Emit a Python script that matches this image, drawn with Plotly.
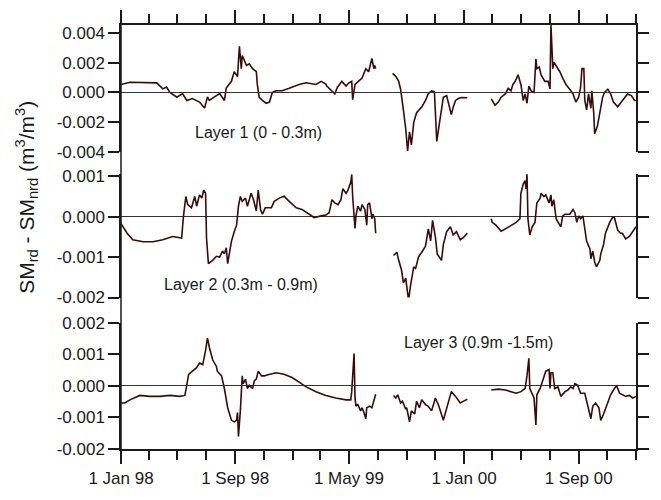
import pandas as pd
import plotly.graph_objects as go

START = "1998-01-01"
END = "2001-01-01"

# Days since 1 Jan 98; None marks a gap in the record
layer1_days = [0, 19, 76, 89, 97, 104, 119, 131, 140, 152, 167, 178, 184, 188, 199, 210, 220, 224, 235, 241,
               248, 252, 256, 258, 267, 273, 280, 288, 290, 294, 301, 309, 316, 322, 330, 343, 358, 379, 394, 415,
               426, 436, 438, 449, 455, 460, 470, 479, 485, 491, 493, 498, 506, 513, 521, 527, 534, 538, 540, 542,
               None,
               578, 585, 591, 595, 601, 606, 610, 614, 618, 623, 629, 640, 648, 654, 661, 667, 669, 672, 678, 682,
               686, 693, 699, 703, 707, 712, 718, 724, 737,
               None,
               788, 796, 803, 809, 818, 824, 830, 834, 839, 845, 851, 856, 860, 864, 868, 873, 879, 883, 885, 890,
               894, 902, 909, 913, 915, 917, 919, 921, 926, 934, 940, 947, 955, 962, 968, 974, 978, 981, 985, 987,
               991, 995, 1000, 1002, 1006, 1008, 1014, 1021, 1025, 1029, 1036, 1042, 1048, 1057, 1067, 1078, 1086,
               1093, 1096]
# SM_rd - SM_nrd, in 10^-3 m3/m3
layer1_vals = [0.54, 0.69, 0.65, 0.24, 0.37, 0.0, -0.32, -0.08, -0.54, -0.41, -0.65, -1.05, -0.30, -0.54, -0.30,
               -0.08, -0.54, 0.30, 0.75, 1.40, 1.08, 3.12, 1.61, 2.50, 1.83, 1.94, 1.61, 1.40, 0.56, -0.32,
               -0.54, -0.73, -0.65, 0.0, 0.11, 0.11, 0.28, 0.54, 0.65, 0.54, 0.75, 0.56, 0.43, 0.11, -0.10,
               0.32, 0.75, 0.43, 0.65, 0.75, -0.49, 0.54, 0.75, 0.97, 1.61, 1.40, 2.30, 1.61, 1.83, 1.61,
               None,
               1.29, 1.08, 0.75, 0.22, -1.18, -2.47, -3.95, -2.66, -3.55, -2.02, -1.37, -0.99, -0.54, -0.08, 0.11,
               0.05, -1.30, -3.31, -2.00, -1.10, -0.32, -0.21, -0.99, -1.50, -0.99, -0.54, -0.41, -0.34, -0.36,
               None,
               -0.43, -0.86, -0.65, -0.32, -0.10, 0.28, 0.11, 0.54, 0.75, 1.19, 0.54, -0.54, -0.10, -0.73, 0.43,
               0.11, 0.0, 2.26, 1.61, 1.72, 1.19, 0.75, 0.75, 0.24, 4.55, 3.34, 1.61, 2.05, 1.83, 1.40, 0.97,
               0.54, 0.22, -0.10, -0.65, -0.32, 0.32, 1.61, 1.61, -0.54, -1.18, -0.10, -1.07, 0.11, -1.37, -2.79,
               -2.26, -1.18, -0.32, 0.0, 0.22, -0.10, -0.65, -0.97, -0.54, -0.10, -0.21, -0.54, -0.54]

layer2_days = [0, 13, 25, 47, 68, 89, 110, 129, 133, 138, 142, 150, 157, 161, 167, 172, 176, 180, 182, 186,
               195, 203, 210, 216, 220, 224, 227, 235, 241, 246, 250, 254, 258, 265, 269, 277, 282, 288, 292, 297,
               301, 307, 320, 326, 337, 347, 358, 373, 385, 400, 411, 426, 436, 443, 449, 455, 462, 468, 472, 479,
               483, 489, 491, 493, 498, 500, 504, 510, 513, 519, 523, 525, 529, 534, 536, 540, 542,
               None,
               580, 587, 591, 597, 601, 606, 608, 612, 616, 623, 627, 633, 640, 648, 654, 659, 663, 669, 673, 682,
               686, 693, 701, 707, 714, 722, 729, 737,
               None,
               788, 790, 798, 809, 820, 830, 841, 849, 851, 856, 860, 862, 864, 866, 870, 875, 881, 885, 892, 894,
               900, 904, 911, 915, 917, 921, 926, 932, 936, 940, 945, 955, 962, 966, 970, 974, 978, 983, 987, 991,
               998, 1000, 1004, 1008, 1012, 1019, 1021, 1027, 1031, 1040, 1046, 1050, 1057, 1063, 1067, 1074,
               1082, 1089, 1096]
layer2_vals = [-0.17, -0.41, -0.57, -0.62, -0.62, -0.57, -0.49, -0.53, 0.02, 0.50, 0.30, 0.22, 0.50, 0.26, 0.54,
               0.46, 0.66, 0.58, -0.53, -1.16, -1.08, -0.98, -1.00, -0.85, -0.92, -0.77, -1.16, -0.61, -0.37,
               -0.21, 0.26, 0.50, 0.38, 0.46, 0.26, 0.58, 0.42, 0.14, 0.66, 0.18, 0.06, 0.22, 0.22, 0.38, 0.46,
               0.51, 0.38, 0.22, 0.18, 0.06, -0.02, 0.02, 0.04, 0.10, 0.42, 0.34, 0.30, 0.42, 0.69, 0.58, 0.66,
               0.85, 1.05, 0.50, -0.29, 0.02, 0.26, 0.14, 0.30, 0.18, -0.21, 0.30, 0.34, -0.05, 0.06, -0.05, -0.41,
               None,
               -0.96, -0.88, -1.08, -1.32, -1.64, -1.52, -1.71, -2.07, -1.71, -1.24, -1.28, -1.00, -0.88, -0.73,
               -0.30, -0.60, -0.09, -0.50, -0.92, -1.08, -0.69, -0.37, -0.25, -0.45, -0.37, -0.57, -0.51, -0.41,
               None,
               -0.05, -0.14, -0.21, -0.36, -0.29, -0.21, -0.14, -0.05, 0.58, 0.81, 0.89, 0.69, 1.07, -0.05, -0.45,
               -0.25, -0.14, 0.34, 0.46, 0.58, 0.50, 0.54, 0.34, 0.54, 0.26, 0.42, -0.05, -0.17, -0.25, 0.02,
               0.06, 0.06, 0.18, 0.10, -0.14, 0.02, -0.05, 0.02, -0.29, -0.61, -0.80, -1.04, -0.85, -1.12, -1.24,
               -1.08, -0.92, -0.69, -0.41, -0.14, -0.02, -0.02, -0.33, -0.41, -0.41, -0.55, -0.49, -0.36, -0.25]

layer3_days = [0, 8, 19, 40, 61, 83, 104, 125, 136, 140, 144, 152, 161, 167, 174, 180, 184, 188, 195, 203,
               205, 214, 220, 227, 235, 241, 246, 248, 250, 254, 258, 260, 265, 269, 273, 280, 284, 288, 292, 299,
               305, 311, 330, 347, 364, 379, 394, 415, 436, 457, 479, 489, 491, 496, 498, 500, 504, 510, 513, 517,
               521, 523, 529, 534, 538, 542,
               None,
               580, 585, 589, 595, 599, 606, 608, 614, 618, 625, 629, 635, 640, 648, 654, 661, 669, 676, 686, 693,
               703, 712, 722, 729, 737,
               None,
               788, 803, 818, 830, 841, 851, 860, 864, 868, 870, 875, 879, 883, 885, 892, 898, 904, 911, 913, 915,
               919, 923, 930, 936, 945, 951, 957, 962, 966, 972, 978, 987, 993, 1000, 1004, 1010, 1017, 1021, 1027,
               1036, 1042, 1050, 1055, 1061, 1067, 1074, 1082, 1089, 1096]
layer3_vals = [-0.54, -0.54, -0.44, -0.30, -0.33, -0.33, -0.30, -0.33, -0.30, 0.02, 0.37, 0.47, 0.58, 0.73, 0.68,
               1.13, 1.52, 1.23, 0.83, 0.62, 0.47, 0.32, -0.08, -0.69, -1.09, -1.14, -1.09, -0.84, -1.60, -0.79,
               0.32, 0.07, 0.22, -0.08, 0.02, -0.08, 0.17, 0.22, 0.47, 0.32, 0.32, 0.35, 0.42, 0.37, 0.27, 0.12,
               -0.03, -0.18, -0.30, -0.38, -0.44, -0.44, -0.18, 1.03, -0.38, -0.64, -0.59, -0.79, -0.69, -0.84,
               -1.04, -0.69, -0.64, -0.69, -0.48, -0.26,
               None,
               -0.30, -0.38, -0.28, -0.54, -0.48, -0.74, -0.69, -1.14, -0.79, -0.89, -0.48, -0.69, -0.44, -0.59,
               -0.65, -0.79, -0.38, -0.62, -1.09, -0.74, -0.18, -0.33, -0.54, -0.48, -0.42,
               None,
               -0.13, -0.10, -0.13, -0.18, -0.23, -0.18, -0.08, 0.32, 0.88, -0.08, -0.28, -0.38, -1.24, -0.28,
               -0.08, 0.17, 0.47, 0.52, -0.08, 0.42, 0.42, -0.08, -0.03, -0.33, -0.18, -0.13, -0.03, -0.08, 0.07,
               0.02, -0.23, -0.23, -0.59, -1.04, -0.64, -0.54, -0.69, -1.09, -0.89, -0.48, -0.28, -0.08, 0.0,
               -0.23, -0.28, -0.33, -0.30, -0.38, -0.33]

layer1_ticks = [-0.004, -0.002, 0.0, 0.002, 0.004]
layer2_ticks = [-0.002, -0.001, 0.0, 0.001]
layer3_ticks = [-0.002, -0.001, 0.0, 0.001, 0.002]

layer_labels = ["Layer 1 (0 - 0.3m)", "Layer 2 (0.3m - 0.9m)", "Layer 3 (0.9m -1.5m)"]
label_dates = ["1998-10-20", "1998-09-14", "2000-01-31"]
label_vals = [-0.00273, -0.00168, 0.00137]

y_title = "SM<sub>rd</sub> - SM<sub>nrd</sub> (m<sup>3</sup>/m<sup>3</sup>)"

LINE = "#3a0b0b"
AX = "#1a1a1a"
FONT = "Liberation Sans, Arial, sans-serif"

base = pd.Timestamp(START)


def to_dates(days):
    return [(base + pd.Timedelta(days=d)).strftime("%Y-%m-%d") if d is not None else None for d in days]


def to_vals(v):
    return [x * 1e-3 if x is not None else None for x in v]


def fmt(ticks):
    return [f"{t:.3f}" if t != 0 else "0.000" for t in ticks]


fig = go.Figure()
# helper trace so the top (mirrored) date axis is drawn
fig.add_trace(go.Scatter(x=[START], y=[None], xaxis="x2", yaxis="y", mode="lines", showlegend=False,
                         hoverinfo="skip"))
for days, vals, yax in [(layer1_days, layer1_vals, "y"), (layer2_days, layer2_vals, "y2"),
                        (layer3_days, layer3_vals, "y3")]:
    fig.add_trace(go.Scatter(x=to_dates(days), y=to_vals(vals), mode="lines", xaxis="x", yaxis=yax,
                             line=dict(color=LINE, width=1.6), connectgaps=False, showlegend=False,
                             hoverinfo="skip"))

yax_common = dict(showline=True, linecolor=AX, linewidth=1.5, ticks="outside", ticklen=11, tickwidth=1.5,
                  tickcolor=AX, mirror="ticks", showgrid=False, zeroline=True, zerolinecolor="#333333",
                  zerolinewidth=1.3, anchor="x", tickfont=dict(family=FONT, size=17, color=AX),
                  fixedrange=True)
xax_common = dict(type="date", range=[START, END], tick0=START, dtick="M8", ticks="outside", ticklen=13,
                  tickwidth=1.5, tickcolor=AX, showline=True, linecolor=AX, linewidth=1.5, showgrid=False,
                  zeroline=False, tickformat="%-d %b %y", tickfont=dict(family=FONT, size=17, color=AX),
                  minor=dict(dtick="M2", tick0=START, ticks="outside", ticklen=9, tickwidth=1.5, tickcolor=AX,
                             showgrid=False))

fig.update_layout(
    width=661, height=500,
    margin=dict(l=121, r=22, t=21, b=36),
    paper_bgcolor="white", plot_bgcolor="rgba(0,0,0,0)",
    xaxis=dict(anchor="y3", domain=[0, 1], **xax_common),
    xaxis2=dict(anchor="y", matches="x", side="top", showticklabels=False, **xax_common),
    yaxis=dict(domain=[0.7014, 1.0], range=[-0.004, 0.00456], tickvals=layer1_ticks,
               ticktext=fmt(layer1_ticks), **yax_common),
    yaxis2=dict(domain=[0.3573, 0.6479], range=[-0.002, 0.00105], tickvals=layer2_ticks,
                ticktext=fmt(layer2_ticks), **yax_common),
    yaxis3=dict(domain=[0, 0.2973], range=[-0.002, 0.002], tickvals=layer3_ticks,
                ticktext=fmt(layer3_ticks), **yax_common),
    shapes=[dict(type="line", xref="paper", yref="paper", x0=0, x1=0, y0=0, y1=1,
                 line=dict(color=AX, width=1.5))],
)

annotations = [dict(text=y_title, textangle=-90, xref="paper", yref="paper", x=-0.1834, y=0.5937,
                    xanchor="center", yanchor="middle", showarrow=False,
                    font=dict(family=FONT, size=21, color=AX))]
for txt, d, v, yr in zip(layer_labels, label_dates, label_vals, ["y", "y2", "y3"]):
    annotations.append(dict(text=txt, x=d, y=v, xref="x", yref=yr, showarrow=False, xanchor="center",
                            yanchor="middle", font=dict(family=FONT, size=16, color=AX)))
fig.update_layout(annotations=annotations)

fig.write_html("out.html")
